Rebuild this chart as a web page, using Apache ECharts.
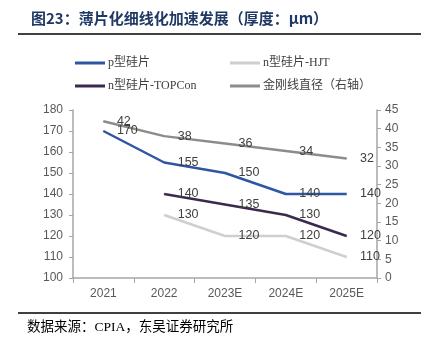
<!DOCTYPE html>
<html><head><meta charset="utf-8">
<script src="https://cdn.jsdelivr.net/npm/echarts@6/dist/echarts.min.js"></script>
<style>html,body{margin:0;padding:0;background:#fff}#c{width:427px;height:346px}</style>
</head><body><div id="c"></div>
<script>
const categories = ['2021','2022','2023E','2024E','2025E'];
const pType = [170,155,150,140,140];
const nHJT = [null,130,120,120,110];
const nTOPCon = [null,140,135,130,120];
const wireDiameter = [42,38,36,34,32];
const leftTicks = {min:100,max:180,interval:10};
const rightTicks = {min:0,max:45,interval:5};
const names = ['p型硅片','n型硅片-HJT','n型硅片-TOPCon','金刚线直径（右轴）'];
const colors = ['#2F56A3','#CFCFCF','#3B2A4E','#8C8C8C'];

const chart = echarts.init(document.getElementById('c'));
const axisColor = '#A6A6A6';
const labelFont = {fontFamily:'Liberation Sans, Arial, sans-serif',fontSize:12,color:'#595959'};
function lab(){return {show:true,position:'right',distance:13,color:'#404040',fontFamily:'Liberation Sans, Arial, sans-serif',fontSize:12.5};}
const legendPos = [[70,52],[225,52],[70,75],[225,75]];
const legends = names.map((n,i)=>({
  data:[n], left:legendPos[i][0], top:legendPos[i][1], itemWidth:30, itemHeight:3, itemGap:0,
  icon:'rect', itemStyle:{color:colors[i]},
  textStyle:{fontFamily:'Liberation Serif, Noto Sans CJK SC, serif',fontSize:12,color:'#404040',padding:[0,0,0,-2]}
}));
const series = [
  {name:names[0],type:'line',data:pType,yAxisIndex:0},
  {name:names[1],type:'line',data:nHJT,yAxisIndex:0},
  {name:names[2],type:'line',data:nTOPCon,yAxisIndex:0},
  {name:names[3],type:'line',data:wireDiameter,yAxisIndex:1}
].map((s,i)=>Object.assign(s,{showSymbol:true,symbol:'circle',symbolSize:1,itemStyle:{color:colors[i]},color:colors[i],lineStyle:{width:2.5,color:colors[i]},label:lab(),labelLayout:{hideOverlap:false},z:[4,2,3,1][i]}));
chart.setOption({
  animation:false,
  title:{text:'图23：薄片化细线化加速发展（厚度：μm）',left:26,top:6,textStyle:{fontFamily:'Noto Sans CJK SC, serif',fontSize:15,fontWeight:'bold',color:'#1F3864'}},
  legend:legends,
  grid:{left:73,right:50,top:110,bottom:68},
  xAxis:{type:'category',data:categories,boundaryGap:true,
    axisLine:{lineStyle:{color:axisColor,width:1.5}},
    axisTick:{show:true,alignWithLabel:false,length:5,lineStyle:{color:axisColor}},
    axisLabel:Object.assign({margin:10},labelFont)},
  yAxis:[
    {type:'value',min:leftTicks.min,max:leftTicks.max,interval:leftTicks.interval,
     axisLine:{show:true,lineStyle:{color:axisColor,width:1.5}},axisTick:{show:true,length:4,lineStyle:{color:axisColor}},
     splitLine:{show:false},axisLabel:Object.assign({margin:10},labelFont)},
    {type:'value',min:rightTicks.min,max:rightTicks.max,interval:rightTicks.interval,position:'right',
     axisLine:{show:true,lineStyle:{color:axisColor,width:1.5}},axisTick:{show:true,length:4,lineStyle:{color:axisColor}},
     splitLine:{show:false},axisLabel:Object.assign({margin:8},labelFont)}
  ],
  series:series,
  graphic:[
    {type:'line',shape:{x1:18,y1:34,x2:421,y2:34},style:{stroke:'#000',lineWidth:1.5}},
    {type:'line',shape:{x1:18,y1:313,x2:421,y2:313},style:{stroke:'#000',lineWidth:1.5}},
    {type:'text',left:27,top:321,style:{text:'数据来源：CPIA，东吴证券研究所',fontFamily:'Liberation Serif, Noto Sans CJK SC, serif',fontSize:13.5,fill:'#000'}}
  ]
});
</script></body></html>
